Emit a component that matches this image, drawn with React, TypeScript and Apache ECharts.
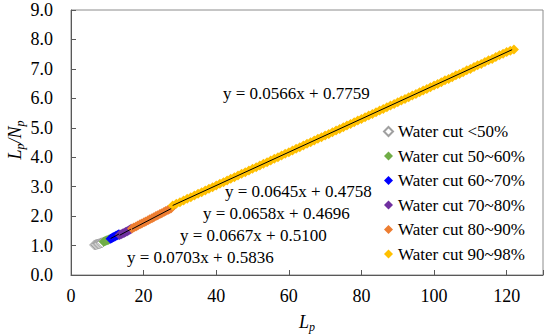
import React, { useEffect, useRef } from "react";
import * as echarts from "echarts";

const FONT = "Liberation Serif";

const seriesNames = [
  "Water cut <50%",
  "Water cut 50~60%",
  "Water cut 60~70%",
  "Water cut 70~80%",
  "Water cut 80~90%",
  "Water cut 90~98%",
];

const grayPts: [number, number][] = [
  [6.5, 1.02], [6.8, 1.03], [7.1, 1.04], [7.4, 1.05], [7.7, 1.06], [8.0, 1.07], [8.3, 1.09], [8.6, 1.1],
];
const greenPts: [number, number][] = [
  [9.0, 1.13], [9.3, 1.15], [9.6, 1.16], [9.9, 1.18], [10.2, 1.19], [10.5, 1.21],
];
const bluePts: [number, number][] = [
  [10.9, 1.23], [11.2, 1.25], [11.5, 1.27], [11.8, 1.29], [12.1, 1.31], [12.4, 1.33], [12.7, 1.35], [13.0, 1.37], [13.2, 1.38],
];
const purplePts: [number, number][] = [
  [13.4, 1.36], [13.8, 1.38], [14.2, 1.41], [14.6, 1.43], [15.0, 1.46], [15.4, 1.48], [15.8, 1.51], [16.2, 1.54], [16.5, 1.56],
];
const orangePts: [number, number][] = [
  [16.8, 1.58], [17.3, 1.61], [17.9, 1.65], [18.4, 1.68], [19.0, 1.72], [19.5, 1.75], [20.1, 1.79],
  [20.6, 1.82], [21.2, 1.86], [21.7, 1.89], [22.3, 1.93], [22.8, 1.96], [23.4, 2.0], [23.9, 2.03],
  [24.5, 2.07], [25.0, 2.1], [25.6, 2.14], [26.1, 2.17], [26.7, 2.21], [27.2, 2.24], [27.6, 2.27],
];
const yellowPts: [number, number][] = [
  [28, 2.36], [29, 2.42], [30, 2.47], [31, 2.53], [32, 2.59], [33, 2.64], [34, 2.7], [35, 2.76], [36, 2.81],
  [37, 2.87], [38, 2.93], [39, 2.98], [40, 3.04], [41, 3.1], [42, 3.15], [43, 3.21], [44, 3.27], [45, 3.32],
  [46, 3.38], [47, 3.44], [48, 3.49], [49, 3.55], [50, 3.61], [51, 3.66], [52, 3.72], [53, 3.78], [54, 3.83],
  [55, 3.89], [56, 3.95], [57, 4.0], [58, 4.06], [59, 4.12], [60, 4.17], [61, 4.23], [62, 4.29], [63, 4.34],
  [64, 4.4], [65, 4.46], [66, 4.51], [67, 4.57], [68, 4.63], [69, 4.68], [70, 4.74], [71, 4.79], [72, 4.85],
  [73, 4.91], [74, 4.96], [75, 5.02], [76, 5.08], [77, 5.13], [78, 5.19], [79, 5.25], [80, 5.3], [81, 5.36],
  [82, 5.42], [83, 5.47], [84, 5.53], [85, 5.59], [86, 5.64], [87, 5.7], [88, 5.76], [89, 5.81], [90, 5.87],
  [91, 5.93], [92, 5.98], [93, 6.04], [94, 6.1], [95, 6.15], [96, 6.21], [97, 6.27], [98, 6.32], [99, 6.38],
  [100, 6.44], [101, 6.49], [102, 6.55], [103, 6.61], [104, 6.66], [105, 6.72], [106, 6.78], [107, 6.83],
  [108, 6.89], [109, 6.95], [110, 7.0], [111, 7.06], [112, 7.12], [113, 7.17], [114, 7.23], [115, 7.29],
  [116, 7.34], [117, 7.4], [118, 7.46], [119, 7.51], [120, 7.57], [121, 7.62], [122, 7.66],
];

const seriesPoints = [grayPts, greenPts, bluePts, purplePts, orangePts, yellowPts];
const seriesColors = ["#ffffff", "#70AD47", "#0000FF", "#7030A0", "#ED7D31", "#FFC000"];

// trend lines (fits)
const trendSlopes = [0.0667, 0.0658, 0.0645, 0.0566];
const trendIntercepts = [0.51, 0.4696, 0.4758, 0.7759];
const trendFrom = [10.9, 13.4, 16.8, 28.0];
const trendTo = [13.2, 16.5, 27.6, 121.5];

const equationLabels = [
  "y = 0.0566x + 0.7759",
  "y = 0.0645x + 0.4758",
  "y = 0.0658x + 0.4696",
  "y = 0.0667x + 0.5100",
  "y = 0.0703x + 0.5836",
];
const xTicks = [0, 20, 40, 60, 80, 100, 120];

export default function App() {
  const ref = useRef<HTMLDivElement>(null);
  useEffect(() => {
    if (!ref.current) return;
    const chart = echarts.init(ref.current, null, { renderer: "svg" });
    const eqPos = [
      [223, 93],
      [225, 191],
      [203, 213],
      [180, 235],
      [127, 257],
    ];
    const scatterSeries = seriesPoints.map((pts, i) => ({
      type: "scatter",
      name: seriesNames[i],
      data: pts,
      symbol: "diamond",
      symbolSize: 10,
      z: 2,
      itemStyle:
        i === 0
          ? { color: "#ffffff", borderColor: "#a0a0a0", borderWidth: 1, opacity: 1 }
          : { color: seriesColors[i], opacity: 1 },
    }));
    const trendSeries = trendSlopes.map((s, i) => ({
      type: "line",
      name: "trend" + i,
      data: [
        [trendFrom[i], s * trendFrom[i] + trendIntercepts[i]],
        [trendTo[i], s * trendTo[i] + trendIntercepts[i]],
      ],
      showSymbol: false,
      symbol: "none",
      silent: true,
      z: 5,
      lineStyle: { color: "#000000", width: 1 },
    }));
    const labelStyle = { fontFamily: FONT, fontSize: 18, color: "#000" };
    const option: any = {
      animation: false,
      textStyle: { fontFamily: FONT },
      grid: { left: 71, right: 7, top: 10, bottom: 61, show: true, borderColor: "#8c8c8c", borderWidth: 1 },
      xAxis: {
        type: "value",
        min: 0,
        max: 130,
        interval: 20,
        axisLine: { lineStyle: { color: "#595959", width: 1 } },
        axisTick: { inside: true, length: 5, lineStyle: { color: "#595959" } },
        axisLabel: {
          ...labelStyle,
          margin: 12,
          formatter: (v: number) => (xTicks.indexOf(v) >= 0 ? String(v) : ""),
        },
        splitLine: { show: false },
      },
      yAxis: {
        type: "value",
        min: 0,
        max: 9,
        interval: 1,
        axisLine: { show: true, lineStyle: { color: "#595959", width: 1 } },
        axisTick: { show: true, inside: true, length: 5, lineStyle: { color: "#595959" } },
        axisLabel: {
          ...labelStyle,
          margin: 18,
          formatter: (v: number) => v.toFixed(1),
        },
        splitLine: { show: false },
      },
      legend: {
        data: seriesNames,
        orient: "vertical",
        left: 378,
        top: 118,
        itemWidth: 9,
        itemHeight: 9,
        itemGap: 7.5,
        icon: "diamond",
        textStyle: { fontFamily: FONT, fontSize: 17, color: "#000" },
      },
      graphic: [
        ...equationLabels.map((t, i) => ({
          type: "text",
          x: eqPos[i][0],
          y: eqPos[i][1],
          z: 10,
          style: { text: t, fontFamily: FONT, fontSize: 17, fill: "#000", align: "left", verticalAlign: "middle" },
        })),
        {
          type: "text",
          x: 15,
          y: 140,
          rotation: Math.PI / 2,
          style: {
            text: "{m|L}{s|p}{m|/N}{s|p}",
            align: "center",
            verticalAlign: "middle",
            rich: {
              m: { fontFamily: FONT, fontStyle: "italic", fontSize: 18, lineHeight: 22, verticalAlign: "middle", fill: "#000" },
              s: { fontFamily: FONT, fontStyle: "italic", fontSize: 12, lineHeight: 22, verticalAlign: "bottom", fill: "#000" },
            },
          },
        },
        {
          type: "text",
          x: 307,
          y: 322,
          style: {
            text: "{m|L}{s|p}",
            align: "center",
            verticalAlign: "middle",
            rich: {
              m: { fontFamily: FONT, fontStyle: "italic", fontSize: 18, lineHeight: 22, verticalAlign: "middle", fill: "#000" },
              s: { fontFamily: FONT, fontStyle: "italic", fontSize: 12, lineHeight: 22, verticalAlign: "bottom", fill: "#000" },
            },
          },
        },
      ],
      series: [...scatterSeries, ...trendSeries],
    };
    chart.setOption(option);
    return () => chart.dispose();
  }, []);
  return <div ref={ref} style={{ position: "absolute", left: 0, top: 0, width: 550, height: 336, background: "#fff" }} />;
}
